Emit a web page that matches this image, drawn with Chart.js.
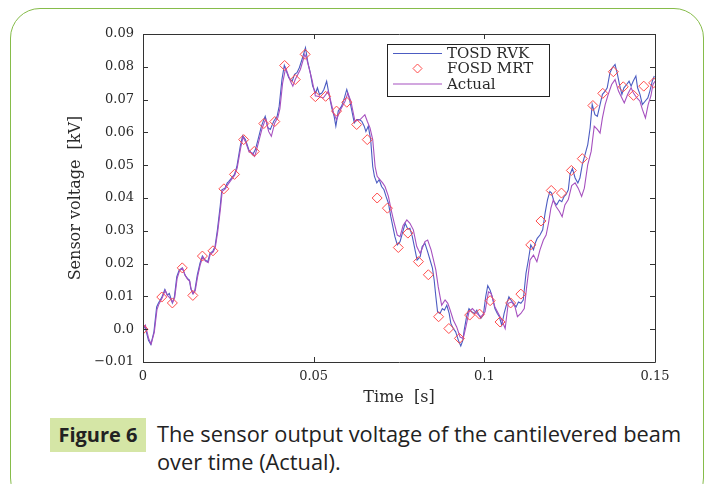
<!DOCTYPE html>
<html>
<head>
<meta charset="utf-8">
<script src="https://cdn.jsdelivr.net/npm/chart.js@4"></script>
<style>
  html,body{margin:0;padding:0;background:#fff;width:715px;height:484px;overflow:hidden;}
  #border{position:absolute;left:10px;top:8px;width:694px;height:500px;border:1.5px solid #86bc4a;border-radius:30px;box-sizing:border-box;}
  #wrap{position:absolute;left:0;top:0;width:715px;height:410px;}
  #figlabel{position:absolute;left:50px;top:418px;width:96px;height:34px;background:#d5e6a6;font-family:"Open Sans",sans-serif;font-weight:bold;font-size:20px;line-height:34px;text-align:center;color:#222;}
  #caption{position:absolute;left:157px;top:420px;font-family:"Open Sans",sans-serif;font-size:21.8px;line-height:28px;color:#222;white-space:nowrap;}
</style>
</head>
<body>
<div id="border"></div>
<div id="wrap"><canvas id="c" width="715" height="410"></canvas></div>
<div id="figlabel">Figure 6</div>
<div id="caption">The sensor output voltage of the cantilevered beam<br>over time (Actual).</div>
<script>
// ---- data (time in s, voltage in kV) ----
const seriesNames = ['TOSD RVK', 'FOSD MRT', 'Actual'];

const timeRvk = [0.0000,0.0006,0.0016,0.0023,0.0032,0.0040,0.0045,0.0055,0.0064,0.0071,0.0077,0.0086,0.0092,0.0099,0.0106,0.0115,0.0123,0.0130,0.0136,0.0140,0.0146,0.0152,0.0159,0.0167,0.0174,0.0182,0.0190,0.0196,0.0205,0.0211,0.0218,0.0226,0.0231,0.0240,0.0247,0.0251,0.0268,0.0275,0.0285,0.0292,0.0300,0.0310,0.0321,0.0329,0.0337,0.0347,0.0354,0.0358,0.0366,0.0373,0.0383,0.0393,0.0399,0.0407,0.0414,0.0420,0.0427,0.0437,0.0444,0.0451,0.0458,0.0466,0.0476,0.0483,0.0490,0.0497,0.0506,0.0511,0.0517,0.0524,0.0530,0.0538,0.0545,0.0553,0.0560,0.0565,0.0572,0.0582,0.0590,0.0597,0.0604,0.0611,0.0619,0.0626,0.0634,0.0641,0.0648,0.0653,0.0660,0.0667,0.0673,0.0678,0.0685,0.0692,0.0699,0.0706,0.0712,0.0719,0.0726,0.0732,0.0738,0.0745,0.0753,0.0760,0.0768,0.0776,0.0782,0.0789,0.0795,0.0803,0.0812,0.0818,0.0826,0.0834,0.0841,0.0848,0.0853,0.0858,0.0863,0.0870,0.0877,0.0883,0.0890,0.0897,0.0902,0.0909,0.0916,0.0924,0.0931,0.0937,0.0941,0.0948,0.0955,0.0963,0.0971,0.0978,0.0984,0.0990,0.0997,0.1004,0.1010,0.1017,0.1023,0.1031,0.1038,0.1044,0.1051,0.1058,0.1066,0.1072,0.1078,0.1085,0.1093,0.1100,0.1107,0.1114,0.1122,0.1129,0.1136,0.1144,0.1149,0.1155,0.1163,0.1171,0.1178,0.1185,0.1192,0.1197,0.1204,0.1212,0.1220,0.1227,0.1234,0.1239,0.1246,0.1251,0.1258,0.1266,0.1274,0.1280,0.1287,0.1295,0.1303,0.1310,0.1316,0.1324,0.1331,0.1339,0.1346,0.1354,0.1360,0.1368,0.1375,0.1383,0.1390,0.1396,0.1403,0.1409,0.1417,0.1424,0.1430,0.1436,0.1444,0.1449,0.1456,0.1463,0.1471,0.1479,0.1485,0.1492,0.1498];
const tosdRvk = [0.0000,0.0008,-0.0034,-0.0047,-0.0008,0.0068,0.0079,0.0097,0.0121,0.0104,0.0109,0.0080,0.0099,0.0160,0.0180,0.0187,0.0165,0.0155,0.0150,0.0124,0.0109,0.0119,0.0165,0.0201,0.0223,0.0211,0.0206,0.0231,0.0239,0.0252,0.0303,0.0374,0.0425,0.0430,0.0446,0.0450,0.0472,0.0496,0.0558,0.0590,0.0578,0.0547,0.0532,0.0547,0.0578,0.0619,0.0639,0.0649,0.0614,0.0609,0.0634,0.0649,0.0680,0.0761,0.0804,0.0787,0.0767,0.0756,0.0777,0.0782,0.0797,0.0823,0.0858,0.0813,0.0782,0.0741,0.0720,0.0736,0.0716,0.0720,0.0731,0.0756,0.0716,0.0675,0.0649,0.0619,0.0665,0.0680,0.0705,0.0731,0.0705,0.0670,0.0629,0.0639,0.0639,0.0634,0.0619,0.0603,0.0619,0.0578,0.0496,0.0466,0.0446,0.0456,0.0435,0.0425,0.0405,0.0384,0.0343,0.0313,0.0282,0.0257,0.0267,0.0293,0.0323,0.0305,0.0308,0.0282,0.0252,0.0211,0.0221,0.0252,0.0262,0.0236,0.0211,0.0186,0.0150,0.0099,0.0053,0.0048,0.0063,0.0058,0.0073,0.0048,0.0017,0.0002,-0.0008,-0.0034,-0.0051,-0.0034,-0.0003,0.0038,0.0063,0.0053,0.0048,0.0058,0.0043,0.0033,0.0043,0.0099,0.0133,0.0119,0.0099,0.0063,0.0048,0.0038,0.0012,0.0048,0.0079,0.0099,0.0089,0.0079,0.0068,0.0083,0.0079,0.0089,0.0170,0.0211,0.0257,0.0242,0.0262,0.0277,0.0287,0.0303,0.0354,0.0394,0.0420,0.0415,0.0389,0.0379,0.0394,0.0389,0.0405,0.0410,0.0425,0.0472,0.0490,0.0461,0.0446,0.0461,0.0502,0.0532,0.0563,0.0614,0.0685,0.0654,0.0649,0.0685,0.0716,0.0726,0.0736,0.0782,0.0797,0.0807,0.0777,0.0746,0.0716,0.0736,0.0746,0.0756,0.0741,0.0756,0.0772,0.0736,0.0716,0.0685,0.0695,0.0705,0.0726,0.0756,0.0772];

const timeMrt = [0.0000,0.0055,0.0086,0.0115,0.0146,0.0174,0.0205,0.0237,0.0268,0.0295,0.0326,0.0354,0.0386,0.0415,0.0446,0.0475,0.0505,0.0535,0.0567,0.0597,0.0626,0.0657,0.0686,0.0716,0.0748,0.0776,0.0807,0.0836,0.0866,0.0896,0.0927,0.0957,0.0986,0.1017,0.1046,0.1077,0.1107,0.1136,0.1166,0.1196,0.1226,0.1255,0.1287,0.1318,0.1347,0.1378,0.1407,0.1437,0.1467,0.1496];
const fosdMrt = [0.0000,0.0098,0.0080,0.0187,0.0103,0.0223,0.0239,0.0428,0.0472,0.0578,0.0542,0.0627,0.0633,0.0804,0.0761,0.0838,0.0709,0.0710,0.0665,0.0692,0.0624,0.0578,0.0400,0.0369,0.0249,0.0293,0.0206,0.0166,0.0038,0.0002,-0.0028,0.0043,0.0046,0.0087,0.0022,0.0080,0.0107,0.0257,0.0330,0.0423,0.0415,0.0484,0.0520,0.0682,0.0719,0.0785,0.0739,0.0713,0.0741,0.0751];

const timeActual = [0.0000,0.0007,0.0017,0.0024,0.0033,0.0041,0.0046,0.0056,0.0065,0.0072,0.0078,0.0087,0.0093,0.0100,0.0107,0.0116,0.0124,0.0131,0.0137,0.0141,0.0147,0.0153,0.0160,0.0168,0.0175,0.0183,0.0191,0.0197,0.0206,0.0212,0.0219,0.0227,0.0232,0.0241,0.0248,0.0252,0.0269,0.0276,0.0286,0.0293,0.0301,0.0311,0.0320,0.0327,0.0331,0.0339,0.0349,0.0356,0.0360,0.0368,0.0376,0.0386,0.0395,0.0401,0.0409,0.0418,0.0422,0.0432,0.0439,0.0446,0.0461,0.0474,0.0480,0.0495,0.0505,0.0509,0.0528,0.0543,0.0558,0.0567,0.0579,0.0592,0.0600,0.0609,0.0621,0.0636,0.0650,0.0657,0.0665,0.0673,0.0680,0.0686,0.0694,0.0702,0.0709,0.0719,0.0727,0.0735,0.0745,0.0753,0.0762,0.0773,0.0782,0.0792,0.0802,0.0812,0.0826,0.0834,0.0844,0.0851,0.0858,0.0865,0.0875,0.0885,0.0893,0.0900,0.0909,0.0919,0.0929,0.0938,0.0946,0.0955,0.0965,0.0978,0.0990,0.1002,0.1012,0.1020,0.1031,0.1041,0.1051,0.1061,0.1070,0.1080,0.1090,0.1097,0.1107,0.1117,0.1124,0.1134,0.1144,0.1154,0.1163,0.1173,0.1181,0.1188,0.1195,0.1202,0.1210,0.1220,0.1228,0.1236,0.1246,0.1256,0.1266,0.1275,0.1285,0.1293,0.1303,0.1313,0.1322,0.1331,0.1339,0.1346,0.1354,0.1363,0.1373,0.1383,0.1393,0.1403,0.1410,0.1420,0.1430,0.1437,0.1447,0.1456,0.1463,0.1472,0.1480,0.1488,0.1494,0.1500];
const actual = [0.0000,0.0012,-0.0030,-0.0045,-0.0010,0.0060,0.0075,0.0095,0.0118,0.0102,0.0096,0.0082,0.0097,0.0155,0.0178,0.0186,0.0163,0.0152,0.0146,0.0122,0.0108,0.0117,0.0160,0.0198,0.0220,0.0208,0.0203,0.0228,0.0236,0.0250,0.0298,0.0368,0.0420,0.0428,0.0440,0.0446,0.0470,0.0492,0.0552,0.0586,0.0570,0.0540,0.0537,0.0527,0.0540,0.0572,0.0612,0.0632,0.0640,0.0603,0.0588,0.0629,0.0645,0.0672,0.0750,0.0797,0.0785,0.0756,0.0741,0.0761,0.0792,0.0838,0.0823,0.0761,0.0711,0.0711,0.0705,0.0726,0.0660,0.0639,0.0670,0.0695,0.0720,0.0695,0.0634,0.0639,0.0654,0.0634,0.0614,0.0578,0.0496,0.0466,0.0456,0.0446,0.0435,0.0405,0.0364,0.0328,0.0287,0.0282,0.0316,0.0333,0.0323,0.0303,0.0252,0.0231,0.0267,0.0272,0.0242,0.0211,0.0180,0.0129,0.0073,0.0089,0.0079,0.0058,0.0028,0.0007,-0.0024,-0.0028,0.0007,0.0053,0.0063,0.0048,0.0038,0.0053,0.0114,0.0109,0.0068,0.0048,0.0028,0.0002,0.0079,0.0083,0.0068,0.0038,0.0048,0.0063,0.0129,0.0211,0.0226,0.0206,0.0242,0.0272,0.0287,0.0323,0.0369,0.0394,0.0374,0.0359,0.0343,0.0379,0.0395,0.0438,0.0446,0.0430,0.0405,0.0430,0.0502,0.0542,0.0619,0.0609,0.0598,0.0644,0.0685,0.0716,0.0746,0.0761,0.0726,0.0705,0.0690,0.0716,0.0736,0.0720,0.0705,0.0695,0.0670,0.0644,0.0685,0.0711,0.0746,0.0756];

const xTickValues = [0, 0.05, 0.1, 0.15];
const xTickLabels = ['0', '0.05', '0.1', '0.15'];
const yTickValues = [-0.01, 0, 0.01, 0.02, 0.03, 0.04, 0.05, 0.06, 0.07, 0.08, 0.09];
const yTickLabels = ['\u22120.01', '0.0', '0.01', '0.02', '0.03', '0.04', '0.05', '0.06', '0.07', '0.08', '0.09'];
const xTitle = 'Time  [s]';
const yTitle = 'Sensor voltage  [kV]';

// ---- styling ----
const BLUE = '#4c5cc2';
const PURPLE = '#a650bf';
const RED = '#ff4b4b';
const INK = '#2a2a2a';
const SERIF = '"DejaVu Serif", "Liberation Serif", serif';

function pts(t, v) { return t.map((x, i) => ({ x: x, y: v[i] })); }
function labelFor(values, labels, v) {
  for (let i = 0; i < values.length; i++) if (Math.abs(values[i] - v) < 1e-9) return labels[i];
  return '';
}

const framePlugin = {
  id: 'frame',
  afterDatasetsDraw(chart) {
    const ctx = chart.ctx, a = chart.chartArea;
    const xs = chart.scales.x, ys = chart.scales.y;
    ctx.save();
    ctx.strokeStyle = '#333';
    ctx.lineWidth = 1;
    ctx.beginPath();
    ctx.rect(Math.round(a.left) + 0.5, Math.round(a.top) + 0.5, Math.round(a.right - a.left), Math.round(a.bottom - a.top));
    ctx.stroke();
    const L = 5;
    ctx.beginPath();
    xTickValues.forEach(v => {
      const px = Math.round(xs.getPixelForValue(v)) + 0.5;
      ctx.moveTo(px, a.bottom); ctx.lineTo(px, a.bottom - L);
      ctx.moveTo(px, a.top); ctx.lineTo(px, a.top + L);
    });
    yTickValues.forEach(v => {
      const py = Math.round(ys.getPixelForValue(v)) + 0.5;
      ctx.moveTo(a.left, py); ctx.lineTo(a.left + L, py);
      ctx.moveTo(a.right, py); ctx.lineTo(a.right - L, py);
    });
    ctx.stroke();

    // legend box
    const bx = 387, by = 44, bw = 162, bh = 52;
    ctx.fillStyle = '#fff';
    ctx.fillRect(bx, by, bw, bh);
    ctx.strokeStyle = '#222';
    ctx.strokeRect(bx + 0.5, by + 0.5, bw, bh);
    const ds = chart.data.datasets;
    const rows = [53.5, 68.5, 84];
    ctx.font = '15px ' + SERIF;
    ctx.textBaseline = 'middle';
    ctx.fillStyle = INK;
    ds.forEach((d, i) => {
      const y = rows[i];
      if (d.showLine === false) {
        const cx = 417.5, r = 4.5;
        ctx.strokeStyle = d.borderColor; ctx.lineWidth = 1;
        ctx.beginPath();
        ctx.moveTo(cx, y - r); ctx.lineTo(cx + r, y); ctx.lineTo(cx, y + r); ctx.lineTo(cx - r, y); ctx.closePath();
        ctx.stroke();
      } else {
        ctx.strokeStyle = d.borderColor; ctx.lineWidth = 1.2;
        ctx.beginPath(); ctx.moveTo(393, y); ctx.lineTo(442, y); ctx.stroke();
      }
      ctx.fillStyle = INK;
      ctx.fillText(d.label, 447, y + 1);
    });
    ctx.restore();
  }
};

new Chart(document.getElementById('c'), {
  type: 'scatter',
  data: {
    datasets: [
      { label: seriesNames[0], data: pts(timeRvk, tosdRvk), showLine: true, borderColor: BLUE, backgroundColor: BLUE, borderWidth: 1.1, pointRadius: 0, tension: 0, order: 3 },
      { label: seriesNames[1], data: pts(timeMrt, fosdMrt), showLine: false, borderColor: RED, backgroundColor: 'rgba(0,0,0,0)', pointStyle: 'rectRot', pointRadius: 5, pointBorderWidth: 1, order: 1 },
      { label: seriesNames[2], data: pts(timeActual, actual), showLine: true, borderColor: PURPLE, backgroundColor: PURPLE, borderWidth: 1.1, pointRadius: 0, tension: 0, order: 2 }
    ]
  },
  options: {
    responsive: false,
    animation: false,
    devicePixelRatio: 1,
    layout: { padding: { left: 66, right: 60, top: 34, bottom: 0 } },
    plugins: { legend: { display: false }, tooltip: { enabled: false } },
    scales: {
      x: {
        type: 'linear', min: 0, max: 0.15,
        afterBuildTicks: s => { s.ticks = xTickValues.map(v => ({ value: v })); },
        afterFit: s => { s.height = 48; },
        grid: { display: false, drawTicks: false },
        border: { display: false },
        ticks: { color: INK, font: { family: SERIF, size: 13 }, padding: 7, maxRotation: 0, callback: v => labelFor(xTickValues, xTickLabels, v) },
        title: { display: true, text: xTitle, color: INK, font: { family: SERIF, size: 16 }, padding: { top: 0, bottom: 3 } }
      },
      y: {
        type: 'linear', min: -0.01, max: 0.09,
        afterBuildTicks: s => { s.ticks = yTickValues.map(v => ({ value: v })); },
        afterFit: s => { s.width = 77; },
        grid: { display: false, drawTicks: false },
        border: { display: false },
        ticks: { color: INK, font: { family: SERIF, size: 13 }, padding: 9, callback: v => labelFor(yTickValues, yTickLabels, v) },
        title: { display: true, text: yTitle, color: INK, font: { family: SERIF, size: 16 }, padding: { top: 0, bottom: 0 } }
      }
    }
  },
  plugins: [framePlugin]
});
</script>
</body>
</html>
